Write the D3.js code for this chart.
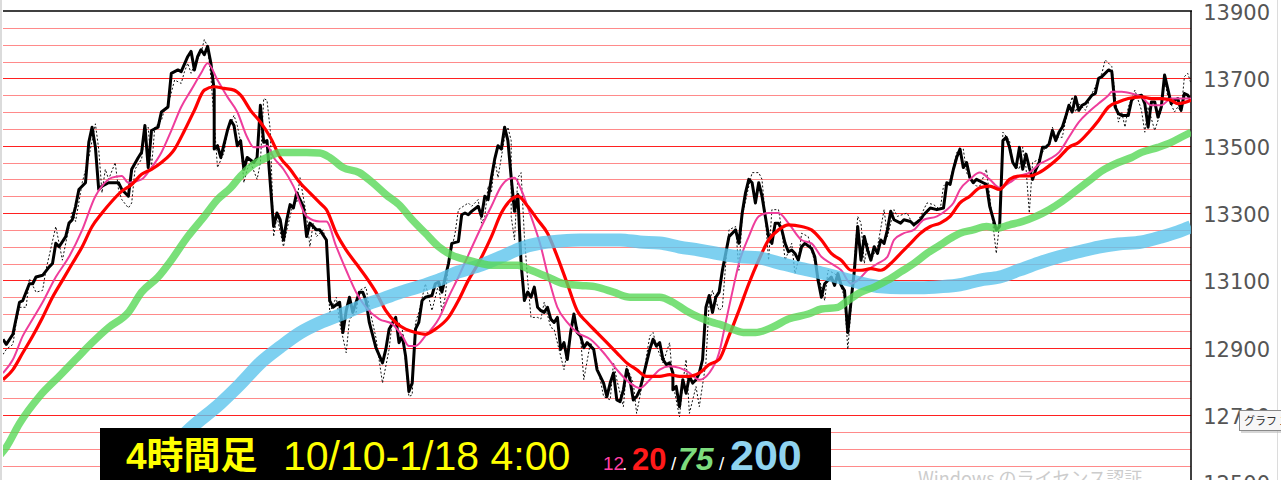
<!DOCTYPE html>
<html><head><meta charset="utf-8">
<script src="https://cdn.jsdelivr.net/npm/d3@7/dist/d3.min.js"></script>
<style>html,body{margin:0;padding:0;background:#fff;overflow:hidden}svg{display:block}</style>
</head><body>
<svg id="c" width="1281" height="480"></svg>
<script>
// [bar index (4h bars), price]
const closeSeries = [[0,12925],[1,12910],[3,12940],[5,13035],[6,13040],[8,13090],[9,13090],[10,13110],[12,13115],[14,13140],[15,13150],[16,13210],[17,13200],[19,13230],[20,13270],[21,13280],[22,13320],[23,13370],[25,13390],[26,13510],[27,13555],[28,13495],[29,13370],[30,13380],[32,13390],[33,13390],[35,13390],[36,13370],[38,13350],[39,13430],[41,13465],[42,13480],[43,13560],[44,13435],[45,13545],[47,13555],[48,13600],[50,13615],[51,13715],[53,13725],[54,13720],[56,13765],[57,13780],[58,13725],[59,13765],[60,13785],[61,13770],[62,13795],[63,13745],[64,13665],[64,13490],[65,13500],[66,13465],[68,13545],[69,13575],[70,13560],[71,13500],[72,13515],[73,13430],[74,13465],[76,13450],[77,13465],[78,13620],[79,13510],[80,13515],[82,13260],[83,13300],[84,13280],[85,13220],[86,13280],[87,13325],[88,13315],[89,13360],[91,13320],[92,13230],[93,13270],[95,13250],[96,13250],[98,13220],[99,13040],[100,13020],[102,13035],[103,12945],[104,13010],[105,13050],[106,13005],[108,13065],[109,13065],[110,13040],[111,12975],[113,12900],[115,12855],[116,12895],[117,12955],[119,12990],[120,12915],[121,12935],[122,12875],[123,12770],[124,12795],[125,12955],[126,12975],[127,13040],[128,13050],[130,13055],[131,13090],[132,13095],[133,13065],[135,13150],[136,13210],[138,13215],[139,13295],[140,13300],[141,13295],[142,13305],[144,13320],[145,13290],[146,13350],[147,13340],[148,13405],[149,13460],[150,13500],[151,13490],[152,13555],[153,13515],[154,13405],[155,13305],[156,13355],[157,13150],[158,13040],[159,13065],[160,13050],[161,13080],[162,13020],[163,13010],[164,13005],[165,13020],[166,12985],[167,12975],[168,12990],[169,12895],[170,12915],[171,12865],[172,12945],[173,13000],[174,12945],[175,12935],[176,12900],[177,12915],[179,12895],[180,12835],[182,12795],[183,12755],[184,12795],[185,12825],[186,12745],[187,12740],[188,12775],[189,12835],[190,12805],[191,12745],[192,12755],[193,12775],[195,12855],[196,12895],[197,12925],[198,12905],[199,12915],[200,12865],[201,12850],[202,12855],[203,12825],[203,12775],[204,12785],[205,12725],[206,12805],[207,12765],[208,12815],[209,12795],[210,12805],[211,12825],[212,12865],[213,13020],[214,13055],[215,13005],[216,13050],[217,13065],[218,13130],[220,13230],[221,13240],[222,13250],[223,13210],[224,13300],[225,13360],[226,13400],[227,13390],[228,13330],[229,13390],[230,13350],[232,13230],[233,13210],[234,13270],[235,13270],[236,13250],[237,13210],[238,13185],[239,13190],[240,13180],[241,13160],[242,13200],[243,13210],[245,13195],[246,13170],[247,13100],[248,13050],[249,13090],[251,13110],[252,13085],[253,13120],[254,13085],[255,13070],[256,12945],[257,13040],[258,13130],[259,13260],[260,13160],[261,13230],[262,13190],[263,13160],[264,13200],[265,13180],[266,13220],[267,13210],[268,13250],[269,13305],[270,13280],[272,13270],[273,13280],[275,13275],[276,13265],[278,13280],[279,13295],[281,13315],[283,13310],[285,13315],[286,13390],[287,13385],[288,13430],[289,13465],[290,13490],[291,13435],[292,13450],[293,13405],[294,13390],[295,13400],[297,13390],[298,13385],[299,13320],[301,13250],[302,13260],[303,13515],[304,13525],[305,13495],[306,13450],[307,13435],[308,13495],[309,13430],[310,13475],[311,13435],[312,13400],[313,13430],[314,13450],[315,13495],[316,13495],[317,13505],[318,13545],[319,13515],[320,13540],[321,13555],[322,13585],[323,13620],[324,13600],[325,13645],[326,13605],[327,13620],[328,13625],[330,13650],[331,13655],[332,13700],[333,13705],[335,13725],[336,13720],[337,13615],[338,13595],[339,13590],[341,13590],[342,13635],[343,13645],[345,13650],[346,13625],[347,13555],[348,13630],[349,13630],[350,13585],[351,13615],[352,13710],[354,13625],[355,13635],[356,13640],[357,13605],[358,13655],[359,13650],[360,13635]];

const dottedSeries = [[0,12880],[1,12895],[3,12910],[4,12975],[5,13020],[7,13020],[8,13105],[10,13065],[12,13070],[13,13130],[16,13260],[18,13160],[19,13210],[21,13305],[22,13275],[24,13390],[26,13465],[28,13565],[29,13490],[30,13360],[31,13430],[32,13400],[34,13450],[35,13370],[36,13340],[38,13315],[39,13330],[40,13430],[42,13460],[43,13540],[44,13555],[45,13435],[46,13555],[48,13575],[49,13610],[50,13620],[52,13695],[54,13685],[55,13720],[56,13745],[57,13715],[58,13740],[60,13775],[61,13815],[62,13795],[63,13705],[64,13570],[65,13435],[67,13480],[68,13545],[70,13590],[71,13560],[72,13510],[73,13390],[74,13430],[75,13450],[77,13400],[78,13450],[79,13640],[80,13635],[81,13545],[82,13230],[83,13290],[85,13200],[86,13250],[88,13330],[89,13330],[90,13405],[92,13290],[93,13200],[94,13270],[95,13230],[97,13250],[98,13210],[99,13005],[101,13050],[102,12975],[104,12885],[105,12985],[107,13005],[108,13070],[110,13080],[111,13020],[113,12930],[115,12795],[117,12895],[118,12985],[120,12975],[121,12955],[123,12755],[124,12760],[125,12975],[126,13005],[128,13090],[130,13010],[132,13090],[133,13005],[134,13050],[135,13150],[137,13240],[138,13310],[141,13330],[142,13320],[144,13340],[145,13270],[146,13290],[147,13380],[148,13360],[149,13460],[150,13405],[152,13525],[153,13555],[154,13515],[154,13290],[155,13220],[156,13405],[157,13420],[158,13230],[159,13100],[160,12990],[162,12990],[163,12985],[164,13035],[166,12960],[167,12955],[169,12875],[170,12835],[172,12945],[173,12990],[175,12935],[176,12805],[178,12915],[179,12895],[181,12805],[182,12755],[184,12745],[185,12855],[186,12805],[188,12725],[189,12845],[191,12795],[192,12705],[193,12755],[195,12875],[196,12935],[197,12945],[198,12905],[200,12855],[202,12915],[203,12795],[205,12695],[206,12795],[207,12865],[208,12705],[210,12785],[211,12725],[213,12855],[214,13035],[215,13070],[217,13010],[218,13020],[219,13150],[220,13250],[222,13260],[223,13130],[224,13290],[226,13380],[227,13420],[229,13420],[230,13400],[231,13290],[232,13160],[233,13310],[235,13310],[236,13250],[237,13160],[239,13210],[240,13120],[241,13160],[242,13240],[244,13230],[245,13190],[248,13080],[249,13040],[250,13130],[252,13120],[253,13110],[255,13050],[256,12895],[257,13020],[259,13290],[260,13270],[261,13150],[262,13210],[263,13160],[265,13200],[267,13310],[268,13230],[270,13310],[271,13290],[274,13300],[276,13260],[278,13290],[280,13330],[282,13325],[284,13310],[285,13380],[287,13400],[288,13435],[289,13480],[291,13490],[292,13420],[293,13400],[295,13380],[296,13380],[298,13430],[299,13350],[301,13180],[302,13270],[303,13540],[305,13515],[306,13450],[308,13430],[309,13495],[310,13435],[311,13300],[312,13450],[314,13460],[315,13480],[317,13510],[318,13555],[319,13525],[321,13525],[322,13575],[324,13645],[325,13600],[326,13625],[328,13605],[330,13655],[331,13675],[333,13715],[334,13755],[336,13735],[338,13570],[339,13600],[340,13555],[341,13615],[343,13665],[345,13605],[346,13540],[347,13615],[349,13545],[351,13605],[352,13695],[353,13645],[355,13600],[356,13615],[357,13600],[358,13705],[359,13715],[360,13685]];

const ma12 = [[0,12825],[3,12865],[6,12935],[9,12985],[12,13035],[16,13110],[20,13170],[24,13250],[28,13350],[30,13380],[33,13405],[36,13410],[38,13390],[42,13400],[45,13435],[48,13480],[51,13545],[54,13615],[57,13665],[60,13715],[62,13745],[65,13695],[68,13645],[71,13600],[74,13525],[76,13495],[78,13495],[80,13500],[82,13465],[85,13430],[88,13380],[92,13290],[96,13275],[98,13275],[101,13200],[104,13130],[107,13065],[110,13020],[114,12985],[118,12970],[121,12935],[123,12905],[125,12905],[128,12935],[132,12985],[135,13050],[138,13110],[141,13175],[145,13260],[148,13320],[151,13380],[153,13400],[155,13405],[157,13370],[160,13290],[163,13200],[165,13120],[168,13020],[171,12975],[174,12945],[178,12925],[182,12885],[186,12835],[190,12795],[193,12780],[196,12805],[199,12835],[202,12845],[205,12840],[208,12825],[211,12805],[214,12825],[217,12885],[219,12975],[221,13065],[223,13150],[226,13230],[229,13290],[232,13300],[235,13300],[238,13270],[242,13220],[245,13210],[248,13170],[251,13150],[254,13130],[257,13090],[259,13100],[262,13130],[265,13150],[268,13170],[270,13220],[273,13240],[276,13250],[279,13280],[283,13290],[286,13310],[288,13330],[290,13370],[293,13400],[296,13420],[299,13400],[302,13375],[305,13390],[308,13410],[311,13420],[314,13445],[317,13460],[320,13480],[323,13525],[326,13570],[329,13600],[332,13625],[335,13650],[336,13660],[339,13660],[342,13655],[345,13645],[348,13620],[351,13620],[354,13640],[358,13640],[360,13640]];

const ma20 = [[0,12805],[3,12835],[6,12885],[9,12935],[12,12990],[15,13050],[18,13100],[21,13150],[24,13200],[27,13260],[30,13300],[33,13335],[36,13365],[39,13385],[42,13415],[45,13430],[48,13450],[52,13490],[55,13545],[58,13605],[61,13665],[64,13675],[67,13670],[70,13665],[72,13650],[75,13605],[78,13570],[81,13525],[84,13465],[87,13430],[90,13390],[93,13360],[96,13330],[98,13310],[101,13240],[104,13190],[107,13150],[110,13110],[113,13065],[116,13010],[119,12975],[122,12955],[125,12945],[128,12940],[131,12955],[135,12990],[138,13040],[141,13100],[144,13150],[148,13230],[151,13300],[154,13340],[156,13350],[159,13320],[162,13280],[165,13240],[168,13170],[171,13090],[174,13010],[177,12975],[180,12945],[183,12915],[186,12885],[189,12855],[192,12835],[195,12815],[199,12815],[202,12820],[205,12815],[208,12815],[211,12825],[214,12850],[217,12865],[220,12935],[223,13010],[226,13090],[229,13160],[232,13220],[235,13250],[238,13265],[242,13260],[245,13250],[248,13220],[251,13180],[254,13160],[257,13130],[260,13130],[263,13135],[266,13130],[269,13150],[272,13180],[275,13210],[278,13240],[281,13260],[284,13270],[287,13290],[290,13330],[293,13350],[296,13375],[299,13380],[302,13370],[305,13400],[308,13410],[311,13410],[314,13420],[317,13440],[320,13465],[323,13495],[326,13510],[329,13540],[332,13575],[335,13615],[338,13630],[341,13640],[345,13645],[348,13640],[351,13640],[354,13635],[356,13625],[360,13635]];

const ma75 = [[-1,12580],[1,12605],[5,12675],[11,12755],[17,12815],[22,12865],[27,12915],[32,12960],[38,13005],[42,13065],[47,13110],[51,13160],[56,13230],[61,13290],[65,13340],[69,13375],[72,13410],[76,13445],[80,13465],[84,13480],[88,13480],[92,13480],[96,13478],[99,13465],[103,13435],[108,13420],[112,13390],[116,13355],[120,13325],[124,13280],[128,13240],[132,13200],[136,13175],[141,13160],[145,13150],[148,13145],[153,13145],[156,13145],[160,13130],[165,13110],[170,13090],[175,13085],[180,13080],[185,13065],[190,13050],[194,13050],[199,13050],[203,13035],[207,13010],[211,12990],[215,12975],[217,12970],[221,12955],[225,12945],[228,12945],[233,12960],[238,12985],[244,13000],[248,13015],[253,13020],[256,13040],[260,13065],[264,13080],[268,13100],[272,13125],[276,13150],[280,13180],[284,13205],[288,13230],[290,13240],[294,13250],[298,13260],[301,13255],[305,13265],[309,13275],[313,13290],[317,13310],[321,13335],[325,13365],[329,13395],[333,13425],[338,13450],[342,13465],[345,13480],[350,13495],[354,13510],[357,13525],[360,13540]];

const ma200 = [[38,12460],[57,12662],[66,12736],[72,12793],[78,12855],[84,12902],[90,12944],[96,12974],[102,12997],[108,13021],[114,13042],[120,13063],[126,13081],[132,13101],[138,13125],[145,13146],[151,13170],[157,13196],[163,13211],[169,13217],[175,13220],[181,13220],[187,13220],[193,13214],[199,13211],[205,13199],[211,13190],[217,13179],[223,13170],[229,13167],[235,13152],[241,13137],[248,13122],[254,13107],[260,13092],[266,13081],[272,13078],[278,13078],[284,13081],[290,13087],[296,13101],[302,13110],[308,13131],[314,13152],[320,13170],[326,13185],[332,13199],[338,13208],[345,13214],[351,13229],[356,13244],[360,13259]];

const yTickValues = [12500, 12700, 12900, 13100, 13300, 13500, 13700, 13900];
const titleJa = "4時間足";
const periodText = "10/10-1/18 4:00";
const maLabels = [
  {t:"12", c:"#ff3fa3", s:19, w:"normal", i:"normal", x:603},
  {t:".", c:"#ffffff", s:19, w:"normal", i:"normal", x:622},
  {t:"20", c:"#ff1a1a", s:31, w:"bold", i:"normal", x:632},
  {t:"/", c:"#ffffff", s:19, w:"normal", i:"normal", x:671},
  {t:"75", c:"#7ddc7d", s:32, w:"bold", i:"italic", x:678},
  {t:"/", c:"#ffffff", s:19, w:"normal", i:"normal", x:719},
  {t:"200", c:"#8fd3ef", s:43, w:"bold", i:"normal", x:730}
];

const svg = d3.select("#c");
const X0 = 3, X1 = 1191, YT = 11;
const x = d3.scaleLinear().domain([0, 360]).range([X0, X1]);
const y = d3.scaleLinear().domain([12500, 13900]).range([482.4, YT]);

svg.append("defs").append("clipPath").attr("id","plot")
  .append("rect").attr("x",X0).attr("y",YT).attr("width",X1-X0).attr("height",480-YT);

// outer decorations
svg.append("line").attr("x1",1).attr("x2",1).attr("y1",0).attr("y2",480).attr("stroke","#cfcfcf").attr("stroke-width",1.5);
svg.append("line").attr("x1",1277.5).attr("x2",1277.5).attr("y1",0).attr("y2",480).attr("stroke","#dcdcdc").attr("stroke-width",1);

// grid
const grid = svg.append("g");
d3.range(12550, 13900, 50).forEach(v => {
  const major = (v - 12500) % 200 === 0;
  const yy = Math.round(y(v)) + 0.5;
  grid.append("line").attr("x1",X0).attr("x2",X1).attr("y1",yy).attr("y2",yy)
    .attr("stroke", major ? "#ff2020" : "#ff8a8a").attr("stroke-width",1);
});

// borders
svg.append("line").attr("x1",X0).attr("x2",X1+1).attr("y1",YT).attr("y2",YT).attr("stroke","#000").attr("stroke-width",1.5);
svg.append("line").attr("x1",X1).attr("x2",X1).attr("y1",YT).attr("y2",480).attr("stroke","#000").attr("stroke-width",1.5);

// axis
const axis = d3.axisRight(y).tickValues(yTickValues).tickSize(0).tickFormat(d3.format("d"));
const ag = svg.append("g").attr("transform",`translate(${X1},0)`).call(axis);
ag.select(".domain").remove();
ag.selectAll("text").attr("x",79).attr("dy","0.4em").attr("text-anchor","end")
  .attr("font-family","DejaVu Sans, Verdana, sans-serif").attr("font-size",21).attr("fill","#555");

const plot = svg.append("g").attr("clip-path","url(#plot)");
const lin = d3.line().x(d=>x(d[0])).y(d=>y(d[1]));
const smooth = d3.line().x(d=>x(d[0])).y(d=>y(d[1])).curve(d3.curveMonotoneX);

plot.append("path").datum(dottedSeries).attr("d",lin).attr("fill","none").attr("stroke","#111").attr("stroke-width",1).attr("stroke-dasharray","2,2");
plot.append("path").datum(closeSeries).attr("d",lin).attr("fill","none").attr("stroke","#000").attr("stroke-width",3).attr("stroke-linejoin","round");
plot.append("path").datum(ma12).attr("d",smooth).attr("fill","none").attr("stroke","#ee3d9c").attr("stroke-width",2);
plot.append("path").datum(ma20).attr("d",smooth).attr("fill","none").attr("stroke","#ff0000").attr("stroke-width",3.2);
plot.append("path").datum(ma200).attr("d",smooth).attr("fill","none").attr("stroke","#5cc4ec").attr("stroke-opacity",0.8).attr("stroke-width",13);
plot.append("path").datum(ma75).attr("d",smooth).attr("fill","none").attr("stroke","#58d858").attr("stroke-opacity",0.8).attr("stroke-width",7.5);

// legend box
const lg = svg.append("g");
lg.append("rect").attr("x",100).attr("y",428).attr("width",731).attr("height",60).attr("fill","#000");
lg.append("text").attr("x",126).attr("y",469).text(titleJa)
  .attr("font-family","Liberation Sans, Noto Sans CJK JP, sans-serif").attr("font-weight","bold")
  .attr("font-size",37).attr("fill","#ffff00");
lg.append("text").attr("x",283).attr("y",470).text(periodText)
  .attr("font-family","Liberation Sans, Arial, sans-serif").attr("font-size",41).attr("fill","#ffff00");
lg.selectAll("text.ma").data(maLabels).enter().append("text").attr("class","ma")
  .attr("x",d=>d.x).attr("y",470).text(d=>d.t)
  .attr("font-family","Liberation Sans, Arial, sans-serif")
  .attr("font-size",d=>d.s).attr("font-weight",d=>d.w).attr("font-style",d=>d.i).attr("fill",d=>d.c);

// overlays from the screenshot
svg.append("text").attr("x",918).attr("y",485).text("Windows のライセンス認証")
  .attr("font-family","Noto Sans CJK JP, sans-serif").attr("font-size",18).attr("fill","#cccccc");
const tip = svg.append("g");
tip.append("rect").attr("x",1241).attr("y",412).attr("width",45).attr("height",21).attr("fill","#bbb").attr("opacity",0.6);
tip.append("rect").attr("x",1239.5).attr("y",410.5).attr("width",45).attr("height",20).attr("fill","#f7f7f7").attr("stroke","#8a8a8a");
tip.append("text").attr("x",1244).attr("y",425).text("グラフ エ")
  .attr("font-family","Noto Sans CJK JP, sans-serif").attr("font-size",11).attr("fill","#333");
</script>
</body></html>
